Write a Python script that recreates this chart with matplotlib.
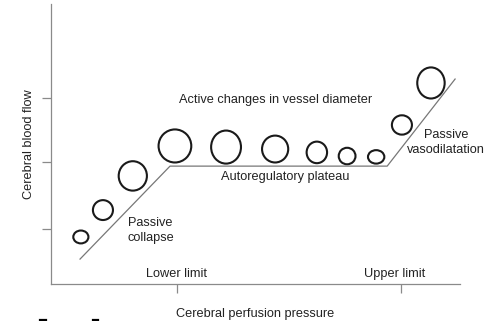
import matplotlib
matplotlib.use("Agg")
import matplotlib.pyplot as plt
from matplotlib.patches import Ellipse
from matplotlib.lines import Line2D

plt.rcParams['font.family'] = ['Liberation Sans', 'DejaVu Sans']

# autoregulation curve: flow vs perfusion pressure (arbitrary units)
pressure_knots = [7.1, 29.1, 82.2, 98.8]
flow_knots = [8.9, 42.1, 42.1, 73.2]

# vessel diameter sketches along the curve
vessel_x = [7.3, 12.7, 20.0, 30.3, 42.8, 54.8, 65.0, 72.4, 79.5, 85.8, 92.9]
vessel_y = [16.8, 26.4, 38.6, 49.3, 48.9, 48.2, 47.0, 45.7, 45.4, 56.8, 71.8]
vessel_w = [3.7, 4.9, 6.9, 8.0, 7.3, 6.4, 5.0, 4.1, 4.0, 4.9, 6.7]
vessel_h = [4.6, 7.1, 10.5, 11.8, 11.8, 9.6, 7.7, 5.9, 4.8, 6.9, 11.1]

limit_ticks = [30.8, 85.6]
limit_labels = ["Lower limit", "Upper limit"]
limit_label_x = [30.8, 84.1]
flow_ticks = [19.6, 43.6, 66.4]

annotations = [
    ("Active changes in vessel diameter", 55.0, 65.7),
    ("Autoregulatory plateau", 57.2, 38.2),
    ("Passive\nvasodilatation", 96.6, 50.6),
    ("Passive\ncollapse", 24.3, 19.1),
]

txt = "#222222"
fs = 9.2

fig = plt.figure(figsize=(4.97, 3.21), dpi=100)
ax = fig.add_axes([51 / 497, 37 / 321, 409 / 497, 280 / 321])
ax.set_xlim(0, 100)
ax.set_ylim(0, 100)

ax.plot(pressure_knots, flow_knots, color="#777777", lw=0.9)

for x, y, w, h in zip(vessel_x, vessel_y, vessel_w, vessel_h):
    ax.add_patch(Ellipse((x, y), w, h, fill=False, ec="#1a1a1a", lw=1.5))

for label, x, y in annotations:
    ax.text(x, y, label, ha="center", va="center", fontsize=fs, color=txt,
            linespacing=1.35)

for label, x in zip(limit_labels, limit_label_x):
    ax.text(x, 3.6, label, ha="center", va="center", fontsize=fs, color=txt)

for side in ["top", "right"]:
    ax.spines[side].set_visible(False)
for side in ["left", "bottom"]:
    ax.spines[side].set_color("#8a8a8a")
    ax.spines[side].set_linewidth(0.9)

ax.set_xticks(limit_ticks)
ax.set_yticks(flow_ticks)
ax.set_xticklabels([])
ax.set_yticklabels([])
ax.tick_params(axis="both", direction="out", length=6.5, width=0.9, color="#8a8a8a")

ax.set_xlabel("Cerebral perfusion pressure", fontsize=fs, color=txt, labelpad=7.5)
ax.set_ylabel("Cerebral blood flow", fontsize=fs, color=txt, labelpad=1.5)

# small marks along the bottom edge
for x0, x1 in [(40, 46), (93, 98)]:
    fig.add_artist(Line2D([x0 / 497, x1 / 497], [1.5 / 321, 1.5 / 321],
                          color="black", lw=1.6))

fig.savefig("out.png", dpi=100)
